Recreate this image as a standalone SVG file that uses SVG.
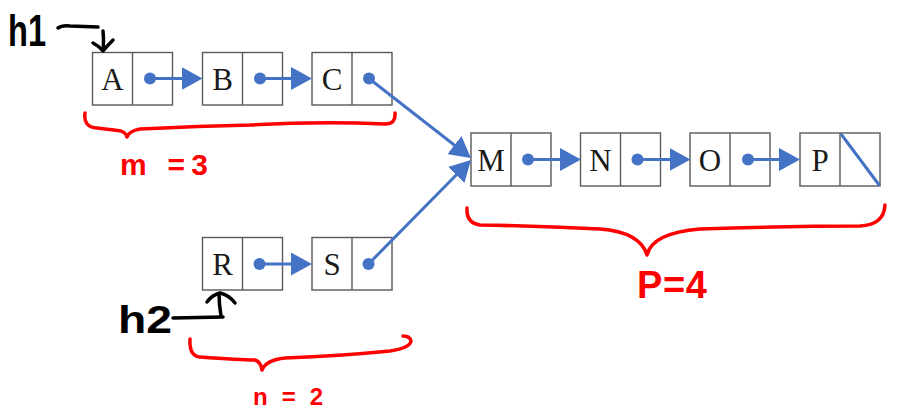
<svg xmlns="http://www.w3.org/2000/svg" width="898" height="419" viewBox="0 0 898 419">
<style>
.cell{fill:#ffffff;stroke:#595959;stroke-width:1.4}
.div{stroke:#595959;stroke-width:1.4}
.val{font-family:"Liberation Serif","DejaVu Serif",serif;font-size:31px;fill:#1a1a1a;text-anchor:middle}
.ptr{stroke:#4472c4;stroke-width:3;fill:none}
.dot{fill:#4472c4}
.hand{fill:none;stroke:#000000;stroke-width:3.5;stroke-linecap:round;stroke-linejoin:round}
.brace{fill:none;stroke:#ff0000;stroke-width:3.5;stroke-linecap:round;stroke-linejoin:round}
.red{font-family:"Liberation Sans","DejaVu Sans",sans-serif;font-weight:bold;fill:#ff0000}
.blk{font-family:"Liberation Sans","DejaVu Sans",sans-serif;font-weight:bold;fill:#000000}
</style>
<defs>
<marker id="ah" markerUnits="userSpaceOnUse" markerWidth="21" markerHeight="23" refX="6" refY="11.5" orient="auto">
<path d="M0,0 L21,11.5 L0,23 Z" fill="#4472c4"/>
</marker>
</defs>
<rect width="898" height="419" fill="#ffffff"/>

<g id="node-A"><rect class="cell" x="92.5" y="52.5" width="80" height="52.5"/><line class="div" x1="132.5" y1="52.5" x2="132.5" y2="105"/><text class="val" x="112.5" y="89.5">A</text><circle class="dot" cx="150" cy="78.5" r="6"/></g>
<g id="node-B"><rect class="cell" x="202.5" y="52.5" width="80" height="52.5"/><line class="div" x1="242.5" y1="52.5" x2="242.5" y2="105"/><text class="val" x="222.5" y="89.5">B</text><circle class="dot" cx="260" cy="78.5" r="6"/></g>
<g id="node-C"><rect class="cell" x="312" y="52.5" width="80" height="52.5"/><line class="div" x1="352" y1="52.5" x2="352" y2="105"/><text class="val" x="332" y="89.5">C</text><circle class="dot" cx="369" cy="78.5" r="6"/></g>

<g id="node-R"><rect class="cell" x="202.5" y="237.5" width="80" height="52.5"/><line class="div" x1="242.5" y1="237.5" x2="242.5" y2="290"/><text class="val" x="222.5" y="274.5">R</text><circle class="dot" cx="259.5" cy="264" r="6"/></g>
<g id="node-S"><rect class="cell" x="312" y="237.5" width="80" height="52.5"/><line class="div" x1="352" y1="237.5" x2="352" y2="290"/><text class="val" x="332" y="274.5">S</text><circle class="dot" cx="368.5" cy="264" r="6"/></g>

<g id="node-M"><rect class="cell" x="471" y="133" width="80" height="53"/><line class="div" x1="511" y1="133" x2="511" y2="186"/><text class="val" x="491" y="171">M</text><circle class="dot" cx="528" cy="159.5" r="6"/></g>
<g id="node-N"><rect class="cell" x="580.5" y="133" width="80" height="53"/><line class="div" x1="620.5" y1="133" x2="620.5" y2="186"/><text class="val" x="600.5" y="171">N</text><circle class="dot" cx="637.5" cy="159.5" r="6"/></g>
<g id="node-O"><rect class="cell" x="690" y="133" width="80" height="53"/><line class="div" x1="730" y1="133" x2="730" y2="186"/><text class="val" x="710" y="171">O</text><circle class="dot" cx="748" cy="159.5" r="6"/></g>
<g id="node-P"><rect class="cell" x="800" y="133" width="80" height="53"/><line class="div" x1="840" y1="133" x2="840" y2="186"/><text class="val" x="820" y="171">P</text><line x1="841" y1="134" x2="879.5" y2="185.5" stroke="#4472c4" stroke-width="3"/></g>

<g id="connectors">
<line class="ptr" x1="150" y1="78.5" x2="187.5" y2="78.5" marker-end="url(#ah)"/>
<line class="ptr" x1="260" y1="78.5" x2="297" y2="78.5" marker-end="url(#ah)"/>
<line class="ptr" x1="369" y1="78.5" x2="459.1" y2="148.8" marker-end="url(#ah)"/>
<line class="ptr" x1="259.5" y1="264" x2="297" y2="264" marker-end="url(#ah)"/>
<line class="ptr" x1="368.5" y1="264" x2="460.4" y2="170.7" marker-end="url(#ah)"/>
<line class="ptr" x1="528" y1="159.5" x2="566" y2="159.5" marker-end="url(#ah)"/>
<line class="ptr" x1="637.5" y1="159.5" x2="675.5" y2="159.5" marker-end="url(#ah)"/>
<line class="ptr" x1="748" y1="159.5" x2="785" y2="159.5" marker-end="url(#ah)"/>
</g>

<g id="head1">
<text class="blk" x="8" y="46" font-size="44" textLength="38" lengthAdjust="spacingAndGlyphs">h1</text>
<path class="hand" d="M58,28 Q62,25 70,26 L98,27"/>
<path class="hand" d="M103,31 Q104,42 103,50"/>
<path class="hand" d="M93,43 Q99,46 103,51 Q108,45 113,40"/>
</g>
<g id="head2">
<text class="blk" x="118" y="333" font-size="38" textLength="54" lengthAdjust="spacingAndGlyphs">h2</text>
<path class="hand" d="M173,318 L223,317"/>
<path class="hand" d="M221,316 Q219,304 219,294"/>
<path class="hand" d="M207,302 Q212,295 220,293 Q229,295 235,303"/>
</g>

<g id="brace-m">
<path class="brace" d="M85,113 Q83,127 97,128 Q115,130 121,131 Q126,133 127,137 Q129,131 140,129 Q200,126 250,125 Q320,121 385,124 Q396,124 395,113"/>
<text class="red" x="120" y="175" font-size="30" textLength="88" lengthAdjust="spacing">m =3</text>
</g>
<g id="brace-n">
<path class="brace" d="M190,339 Q189,356 200,357 Q240,360 255,360 Q261,362 262,370 Q266,360 285,358 Q340,356 390,351 Q410,348 411,341 Q410,336 403,336"/>
<text class="red" x="253" y="405" font-size="24" textLength="70" lengthAdjust="spacing">n = 2</text>
</g>
<g id="brace-p">
<path class="brace" d="M467,208 Q466,223 480,225 Q540,226 600,229 Q640,232 647,255 Q652,233 700,229 Q790,226 860,226 Q884,225 885,205"/>
<text class="red" x="637" y="298" font-size="38" textLength="70" lengthAdjust="spacing">P=4</text>
</g>
</svg>
